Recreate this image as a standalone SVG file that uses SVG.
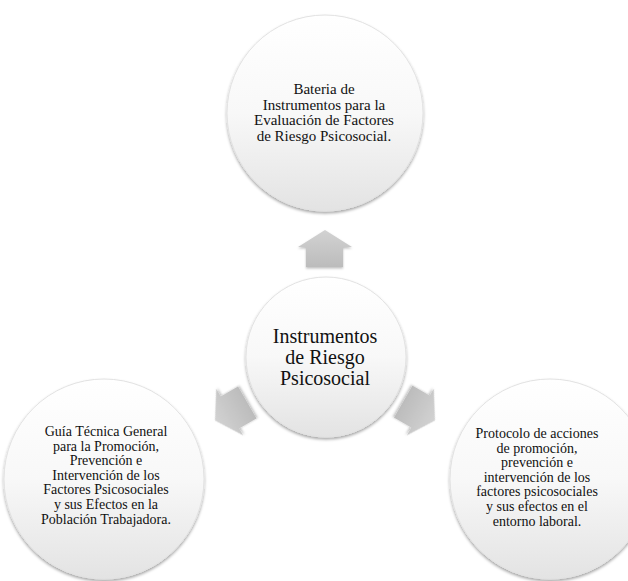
<svg xmlns="http://www.w3.org/2000/svg" xmlns:xlink="http://www.w3.org/1999/xlink" width="628" height="581" viewBox="0 0 628 581">
<style>
  text { font-family: "Liberation Serif", "Times New Roman", serif; fill: #111; text-anchor: middle; }
  .small { font-size: 14px; }
  .top { font-size: 15px; }
  .hub { font-size: 20px; }
  .circle { fill: url(#cg); stroke: #e2e2e2; stroke-width: 1; filter: url(#sh); }
  .arrow { fill: url(#ag); filter: url(#ash); }
</style>
<defs>
  <linearGradient id="cg" x1="0" y1="0" x2="0" y2="1">
    <stop offset="0" stop-color="#ffffff"/>
    <stop offset="0.5" stop-color="#f8f8f8"/>
    <stop offset="1" stop-color="#e3e3e3"/>
  </linearGradient>
  <linearGradient id="ag" x1="0" y1="0" x2="0" y2="1">
    <stop offset="0" stop-color="#d2d2d2"/>
    <stop offset="1" stop-color="#bcbcbc"/>
  </linearGradient>
  <filter id="sh" x="-10%" y="-10%" width="120%" height="125%">
    <feDropShadow dx="0" dy="2" stdDeviation="1.5" flood-color="#000" flood-opacity="0.35"/>
  </filter>
  <filter id="ash" x="-20%" y="-20%" width="140%" height="150%">
    <feDropShadow dx="0" dy="1.5" stdDeviation="1" flood-color="#000" flood-opacity="0.25"/>
  </filter>
  <path id="arrowUp" d="M325,230 L352,247 L343,247 L343,267 L306,267 L306,247 L298,247 Z"/>
</defs>

<g id="connectors">
  <use xlink:href="#arrowUp" class="arrow"/>
  <use xlink:href="#arrowUp" class="arrow" transform="rotate(120 325 357)"/>
  <use xlink:href="#arrowUp" class="arrow" transform="rotate(240 325 357)"/>
</g>

<g id="node-top">
  <circle class="circle" cx="325" cy="113" r="98"/>
  <text class="top" x="324" y="94">Bateria de</text>
  <text class="top" x="324" y="110">Instrumentos para la</text>
  <text class="top" x="324" y="125">Evaluación de Factores</text>
  <text class="top" x="324" y="141">de Riesgo Psicosocial.</text>
</g>

<g id="node-hub">
  <circle class="circle" cx="326" cy="357" r="80"/>
  <text class="hub" x="325" y="343">Instrumentos</text>
  <text class="hub" x="325" y="364">de Riesgo</text>
  <text class="hub" x="325" y="385">Psicosocial</text>
</g>

<g id="node-left">
  <circle class="circle" cx="104" cy="479" r="100"/>
  <text class="small" x="106" y="436">Guía Técnica General</text>
  <text class="small" x="106" y="451">para la Promoción,</text>
  <text class="small" x="106" y="465">Prevención e</text>
  <text class="small" x="106" y="480">Intervención de los</text>
  <text class="small" x="106" y="494">Factores Psicosociales</text>
  <text class="small" x="106" y="509">y sus Efectos en la</text>
  <text class="small" x="106" y="524">Población Trabajadora.</text>
</g>

<g id="node-right">
  <circle class="circle" cx="550" cy="479" r="100"/>
  <text class="small" x="537" y="438">Protocolo de acciones</text>
  <text class="small" x="537" y="453">de promoción,</text>
  <text class="small" x="537" y="467">prevención e</text>
  <text class="small" x="537" y="482">intervención de los</text>
  <text class="small" x="537" y="496">factores psicosociales</text>
  <text class="small" x="537" y="511">y sus efectos en el</text>
  <text class="small" x="537" y="526">entorno laboral.</text>
</g>
</svg>
